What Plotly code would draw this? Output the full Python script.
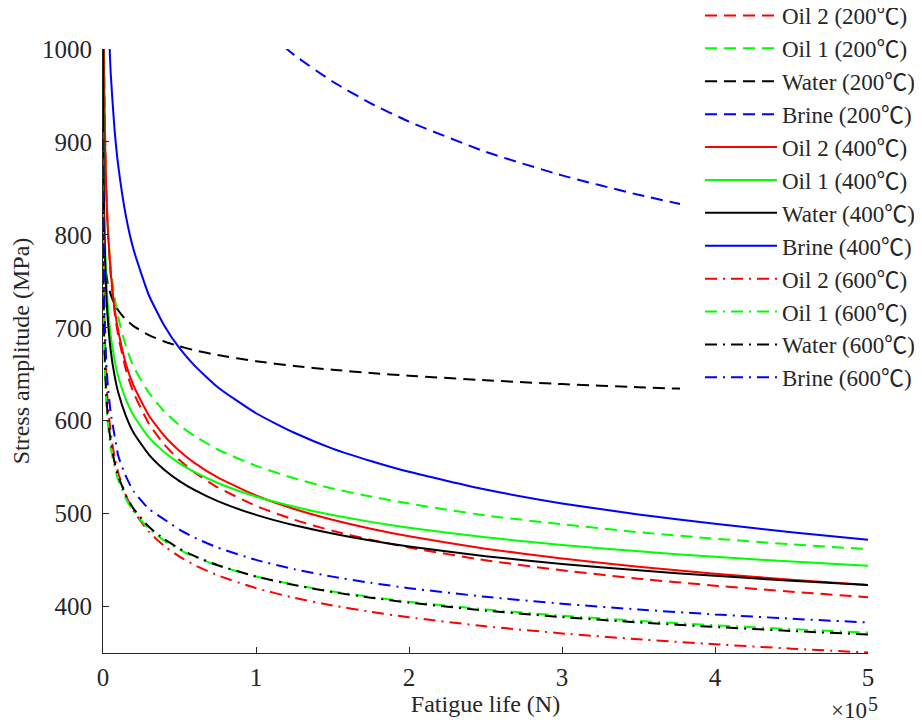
import plotly.graph_objects as go

# Fatigue life (cycles) sample points
N = [100, 200, 500, 1000, 2000, 3000, 5000, 7500, 10000, 15000, 20000, 30000, 40000,
     50000, 60000, 75000, 100000, 125000, 150000, 175000, 200000, 250000, 300000,
     350000, 400000, 450000, 500000]

# Stress amplitude (MPa)
oil2_200 = [1277, 1165, 1031, 940, 857, 811.5, 758, 718, 691, 654.7, 630, 596.8, 574.4,
            557.6, 544.1, 528.2, 508.3, 493.4, 481.5, 471.8, 463.5, 449.8, 439,
            430, 422.5, 415.9, 410.1]
oil1_200 = [1100, 1040, 989, 916, 849, 812, 767, 734, 711, 680, 658, 630, 610,
            595, 583.4, 569, 551.4, 538, 527, 518.4, 510.8, 498, 488.5,
            480, 473, 467, 461.7]
water_200 = [841.6, 821.8, 796.3, 777.6, 759.4, 748.9, 735.9, 725.7, 718.6, 708.6, 701.7, 692, 685.2,
             680, 675.8, 670.6, 664, 658.9, 654.8, 651.4, 648.4, 643.5, 639.4,
             636, 633.2, 630.6, 628.3]
brine_200 = [3100, 2760, 2380, 2120, 1890, 1770, 1630, 1530, 1486, 1390, 1330, 1250, 1191.5,
             1150, 1117, 1078, 1029.5, 993.5, 965, 941.6, 921.8, 889.4, 864,
             843.1, 825.4, 810, 796.5]
oil2_400 = [1252, 1146, 1020, 934, 855, 812, 761, 722, 696.5, 661, 637.6, 605.6, 583.8,
            567.5, 554.4, 538.9, 519.5, 505, 493.4, 483.8, 475.7, 462.3, 451.7,
            442.9, 435.4, 428.9, 423.3]
oil1_400 = [1010, 940, 865, 809, 756, 727, 692, 666, 647, 623, 605.5, 582, 566.3,
            554, 544.6, 533, 518.4, 507.4, 498.5, 491.1, 484.9, 474.5, 466.2,
            459.4, 453.5, 448.4, 443.8]
water_400 = [1007, 938, 855, 796, 742, 712, 676, 649, 630, 605, 587, 563.5, 547.3,
             535, 525.2, 513.4, 498.6, 487.4, 478.5, 471, 464.6, 454.2, 445.9,
             439, 433, 427.8, 423.3]
brine_400 = [1805, 1620, 1401, 1256, 1126, 1057, 975, 914, 874, 820, 784, 735, 702.5,
             678, 659, 636, 608, 587, 570, 556.7, 545, 526, 511,
             499, 489, 480, 471.8]
oil2_600 = [910.7, 842.6, 760.3, 703.5, 650.9, 622, 587.3, 561.2, 543.4, 519.3, 502.8, 480.5, 465.2,
            453.8, 444.5, 433.6, 419.8, 409.4, 401.2, 394.3, 388.4, 378.8, 371.1,
            364.8, 359.4, 354.7, 350.5]
oil1_600 = [823.6, 772, 708.7, 664.4, 622.7, 599.6, 571.7, 550.5, 535.9, 516, 502.3, 483.7, 470.9,
            461.2, 453.4, 444.1, 432.3, 423.4, 416.3, 410.3, 405.2, 396.9, 390.2,
            384.6, 379.9, 375.7, 372]
water_600 = [844, 789, 722, 675, 631.6, 607, 578, 555.6, 540.4, 519.5, 505.2, 485.8, 472.5,
             462.3, 454.2, 444.5, 432.3, 423.1, 415.6, 409.5, 404.2, 395.6, 388.6,
             382.9, 378, 373.7, 369.9]
brine_600 = [903, 842, 768, 716, 668, 641, 609, 584.5, 562, 540, 524, 505, 493.8,
             482.8, 474, 463.4, 450.2, 440.2, 432.2, 425.5, 419.8, 410.5, 403,
             396.8, 391.5, 386.9, 382.8]

x_tick_vals = [0, 100000, 200000, 300000, 400000, 500000]
x_tick_text = ["0", "1", "2", "3", "4", "5"]
y_tick_vals = [400, 500, 600, 700, 800, 900, 1000]

RED, GREEN, BLACK, BLUE = "#FF0000", "#00FF00", "#000000", "#0000FF"
DASH = "12px,7px"
DASHDOT = "12px,6px,2px,6px"

series = [
    ("Oil 2 (200℃)", oil2_200, RED, DASH),
    ("Oil 1 (200℃)", oil1_200, GREEN, DASH),
    ("Water (200℃)", water_200, BLACK, DASH),
    ("Brine (200℃)", brine_200, BLUE, DASH),
    ("Oil 2 (400℃)", oil2_400, RED, "solid"),
    ("Oil 1 (400℃)", oil1_400, GREEN, "solid"),
    ("Water (400℃)", water_400, BLACK, "solid"),
    ("Brine (400℃)", brine_400, BLUE, "solid"),
    ("Oil 2 (600℃)", oil2_600, RED, DASHDOT),
    ("Oil 1 (600℃)", oil1_600, GREEN, DASHDOT),
    ("Water (600℃)", water_600, BLACK, DASHDOT),
    ("Brine (600℃)", brine_600, BLUE, DASHDOT),
]

FONT = "Liberation Serif, Times New Roman, Noto Sans CJK SC, serif"
TXT = "#262626"

fig = go.Figure()
for name, vals, color, dash in series:
    fig.add_trace(go.Scatter(x=N, y=vals, mode="lines", name=name,
                             line=dict(color=color, width=2, dash=dash, shape="spline", smoothing=0.5)))

# page body has an 8px margin; size the figure so it lands on the 922x723 window
OFF = 8
W, H = 922 - OFF, 723 - OFF
L, R, T, B = 103 - OFF, 54, 49 - OFF, 70
pw, ph = W - L - R, H - T - B


def px_x(p):  # reference-image x pixel -> paper
    return (p - 103) / pw


def px_y(p):  # reference-image y pixel -> paper
    return (653 - p) / ph


fig.add_shape(type="rect", xref="paper", yref="paper",
              x0=px_x(680), x1=px_x(940), y0=px_y(396), y1=px_y(-20),
              fillcolor="white", line=dict(width=0), layer="above")

fig.add_annotation(xref="paper", yref="paper", x=px_x(868), y=px_y(724),
                   xanchor="right", yanchor="bottom", showarrow=False,
                   text="×10", font=dict(family=FONT, size=23, color=TXT),
                   borderpad=0)
fig.add_annotation(xref="paper", yref="paper", x=px_x(867), y=px_y(692),
                   xanchor="left", yanchor="top", showarrow=False,
                   text="5", font=dict(family=FONT, size=20, color=TXT),
                   borderpad=0)

axis_common = dict(showgrid=False, zeroline=False, showline=True, linecolor=TXT,
                   linewidth=1, ticks="inside", ticklen=6, tickcolor=TXT,
                   tickfont=dict(family=FONT, size=25, color=TXT), mirror=False)

fig.update_xaxes(range=[0, 500000], tickvals=x_tick_vals, ticktext=x_tick_text,
                 ticklabelstandoff=2,
                 title=dict(text="Fatigue life (N)", font=dict(family=FONT, size=24, color=TXT), standoff=2),
                 **axis_common)
fig.update_yaxes(range=[350, 1000], tickvals=y_tick_vals, ticklabelstandoff=5,
                 title=dict(text="Stress amplitude (MPa)", font=dict(family=FONT, size=24, color=TXT), standoff=10),
                 **axis_common)

fig.update_layout(
    width=W, height=H,
    margin=dict(l=L, r=R, t=T, b=B, autoexpand=False),
    paper_bgcolor="white", plot_bgcolor="white",
    legend=dict(x=px_x(700), y=px_y(-6), xanchor="left", yanchor="top",
                bgcolor="rgba(0,0,0,0)", borderwidth=0, itemwidth=72,
                maxheight=1000,
                font=dict(family=FONT, size=23, color=TXT),
                tracegroupgap=0),
)

fig.write_html("out.html")
